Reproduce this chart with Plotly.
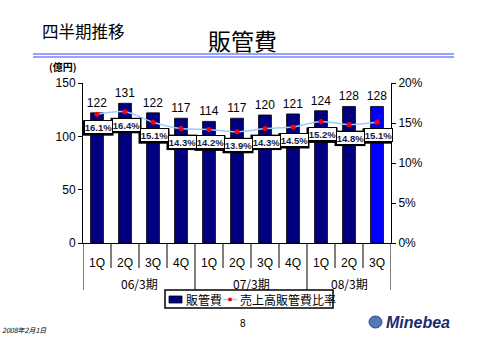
import plotly.graph_objects as go

periods = ["06/3期"] * 4 + ["07/3期"] * 4 + ["08/3期"] * 3
quarters = ["1Q", "2Q", "3Q", "4Q", "1Q", "2Q", "3Q", "4Q", "1Q", "2Q", "3Q"]
sga = [122, 131, 122, 117, 114, 117, 120, 121, 124, 128, 128]
ratio = [16.1, 16.4, 15.1, 14.3, 14.2, 13.9, 14.3, 14.5, 15.2, 14.8, 15.1]
group_names = ["06/3期", "07/3期", "08/3期"]
y2_ticks = [0, 5, 10, 15, 20]
series_names = ["販管費", "売上高販管費比率"]

JP = "Noto Sans CJK JP"
NUM = "Liberation Sans, Arial"
NAVY = "#000080"
LINE_C = "#99CCFF"
MARK_C = "#FF0000"

# pixel -> paper helpers (plot area: x 83..391, y 83..243)
L, R, T, B = 83, 391, 83, 243
def px(x):
    return (x - L) / (R - L)
def py(y):
    return (B - y) / (B - T)

xs = list(range(len(quarters)))
bar_colors = [NAVY] * (len(sga) - 1) + ["#0000FF"]

fig = go.Figure()
fig.add_trace(go.Bar(
    x=xs, y=sga, name=series_names[0], width=0.46,
    marker=dict(color=bar_colors, line=dict(color="#000000", width=0.8)),
    text=[str(v) for v in sga], textposition="outside", constraintext="none",
    textfont=dict(family=NUM, size=12, color="#000"),
    cliponaxis=False, yaxis="y",
))
fig.add_trace(go.Scatter(
    x=xs, y=ratio, name=series_names[1], yaxis="y2", mode="lines+markers",
    line=dict(color=LINE_C, width=1.5, shape="spline", smoothing=0.8),
    marker=dict(color=MARK_C, size=5),
))

# label box geometry (pixels relative to the point; y up)
BX, BY, HW, HH = 1, -13, 14.5, 7

ann = []
shapes = []
for i, v in enumerate(ratio):
    # drop shadow of label box
    shapes.append(dict(type="rect", xref="x", yref="y2", xsizemode="pixel", ysizemode="pixel",
                       xanchor=i, yanchor=v, x0=BX - HW - 1, x1=BX + HW + 1,
                       y0=BY - HH - 1.5, y1=BY + HH, fillcolor="#000", line=dict(width=0)))
    ann.append(dict(x=i, y=v, xref="x", yref="y2", text=f"<b>{v}%</b>", showarrow=False,
                    yshift=BY, xshift=BX, width=2 * HW - 2, height=2 * HH - 2,
                    bgcolor="#fff", bordercolor="#000", borderwidth=1,
                    borderpad=0, font=dict(family=NUM, size=9.5, color="#1a1a40")))

# group labels
starts = [0, 4, 8]
ends = [3, 7, 10]
for g, s, e in zip(group_names, starts, ends):
    ann.append(dict(x=(s + e) / 2, y=py(283), xref="x", yref="paper", yanchor="middle",
                    xanchor="center", text=g, showarrow=False,
                    font=dict(family=JP, size=12, color="#000")))

ann += [
    dict(x=px(40), y=py(31), xref="paper", yref="paper", xanchor="left", yanchor="middle",
         text="四半期推移", showarrow=False, font=dict(family=JP, size=16.5, color="#000")),
    dict(x=px(243), y=py(40), xref="paper", yref="paper", xanchor="center", yanchor="middle",
         text="販管費", showarrow=False, font=dict(family=JP, size=23, color="#000")),
    dict(x=px(47), y=py(67), xref="paper", yref="paper", xanchor="left", yanchor="middle",
         text="<b>(億円)</b>", showarrow=False, font=dict(family=JP, size=10, color="#000")),
    dict(x=px(243), y=py(323), xref="paper", yref="paper", xanchor="center", yanchor="middle",
         text="8", showarrow=False, font=dict(family=NUM, size=10, color="#000")),
    dict(x=px(0), y=py(330), xref="paper", yref="paper", xanchor="left", yanchor="middle",
         text="<i>2008年2月1日</i>", showarrow=False, font=dict(family=JP, size=7, color="#000")),
    dict(x=px(384), y=py(322), xref="paper", yref="paper", xanchor="left", yanchor="middle",
         text="<b><i>Minebea</i></b>", showarrow=False, font=dict(family=NUM, size=16, color="#1a2a70")),
    # legend texts
    dict(x=px(184), y=py(299.5), xref="paper", yref="paper", xanchor="left", yanchor="middle",
         text=series_names[0], showarrow=False, font=dict(family=JP, size=12, color="#000")),
    dict(x=px(238), y=py(299.5), xref="paper", yref="paper", xanchor="left", yanchor="middle",
         text=series_names[1], showarrow=False, font=dict(family=JP, size=12, color="#000")),
]

# blue double line under title
for y in (54, 57):
    shapes.append(dict(type="line", xref="paper", yref="paper", x0=px(33), x1=px(454),
                       y0=py(y), y1=py(y), line=dict(color="#3344FF", width=1)))
# quarter dividers
for i in range(len(quarters) - 1):
    if i + 0.5 in (3.5, 7.5):
        continue
    shapes.append(dict(type="line", xref="x", yref="paper", x0=i + 0.5, x1=i + 0.5,
                       y0=0, y1=py(268), line=dict(color="#000", width=1)))
# group dividers
for xb in (-0.5, 3.5, 7.5, len(quarters) - 0.5):
    shapes.append(dict(type="line", xref="x", yref="paper", x0=xb, x1=xb,
                       y0=0, y1=py(290), line=dict(color="#000", width=1)))
# legend box and symbols
shapes += [
    dict(type="rect", xref="paper", yref="paper", x0=px(165), x1=px(333), y0=py(308), y1=py(290),
         line=dict(color="#000", width=1.5), fillcolor="#fff", layer="below"),
    dict(type="rect", xref="paper", yref="paper", x0=px(169), x1=px(182), y0=py(303), y1=py(296),
         line=dict(color="#000", width=0.8), fillcolor=NAVY),
    dict(type="line", xref="paper", yref="paper", x0=px(223), x1=px(237), y0=py(299.5), y1=py(299.5),
         line=dict(color=LINE_C, width=1.5)),
    dict(type="circle", xref="paper", yref="paper", x0=px(228), x1=px(232), y0=py(301.5), y1=py(297.5),
         line=dict(color=MARK_C, width=0), fillcolor=MARK_C),
]
# logo circle
shapes.append(dict(type="circle", xref="paper", yref="paper", x0=px(369), x1=px(382),
                   y0=py(328), y1=py(316), fillcolor="#5577bb", line=dict(color="#334488", width=1)))

fig.update_layout(
    width=480, height=340,
    margin=dict(l=L, r=480 - R, t=T, b=340 - B),
    paper_bgcolor="#fff", plot_bgcolor="#fff",
    showlegend=False,
    xaxis=dict(range=[-0.5, len(quarters) - 0.5], tickvals=xs, ticktext=quarters,
               showgrid=False, zeroline=False, showline=True, linecolor="#000", linewidth=1,
               ticks="", ticklabelstandoff=9,
               tickfont=dict(family=NUM, size=12, color="#000"), fixedrange=True),
    yaxis=dict(range=[0, 150], tickvals=[0, 50, 100, 150], showgrid=False, zeroline=False,
               showline=True, linecolor="#000", linewidth=1, ticks="outside", ticklen=4,
               tickcolor="#000", tickfont=dict(family=NUM, size=12, color="#000")),
    yaxis2=dict(range=[0, 20], tickvals=y2_ticks, ticktext=[f"{t}%" for t in y2_ticks],
                overlaying="y", side="right", showgrid=False, zeroline=False, showline=True,
                linecolor="#000", linewidth=1, ticks="outside", ticklen=4, tickcolor="#000",
                tickfont=dict(family=NUM, size=12, color="#000")),
    annotations=ann, shapes=shapes,
)

fig.write_html("out.html")
